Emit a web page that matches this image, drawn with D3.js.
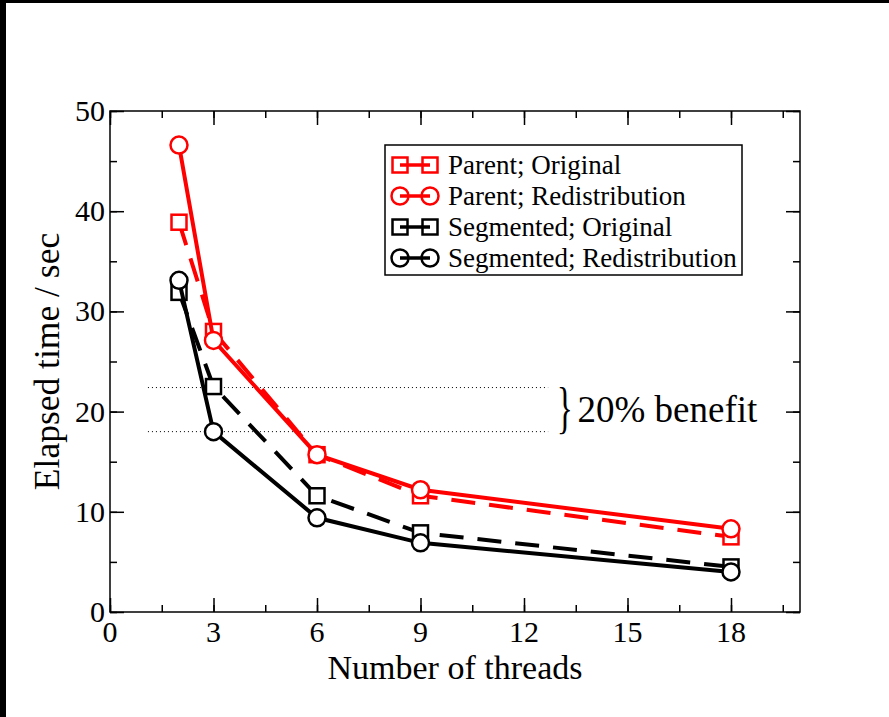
<!DOCTYPE html>
<html>
<head>
<meta charset="utf-8">
<script src="https://cdn.jsdelivr.net/npm/d3@7"></script>
<style>
  html, body { margin: 0; padding: 0; background: #fff; }
  svg { display: block; }
</style>
</head>
<body>
<script>
// Thread counts and measured elapsed times (seconds)
const threads = [2, 3, 6, 9, 18];
const parentOriginal = [38.9, 28.0, 15.7, 11.6, 7.5];
const parentRedistribution = [46.6, 27.1, 15.7, 12.2, 8.3];
const segmentedOriginal = [31.9, 22.5, 11.6, 7.9, 4.5];
const segmentedRedistribution = [33.1, 18.0, 9.4, 6.9, 4.0];

const seriesNames = ["Parent; Original", "Parent; Redistribution", "Segmented; Original", "Segmented; Redistribution"];
const xTicks = [0, 3, 6, 9, 12, 15, 18];
const yTicks = [0, 10, 20, 30, 40, 50];
// Reference levels for the annotated benefit at 3 threads
const benefitLevels = [22.4, 18.0];
const benefitSpan = [1.1, 12.7];
const benefitLabel = "20% benefit";

const SERIF = "'Liberation Serif', 'Times New Roman', serif";
const W = 889, H = 717;
const plot = { left: 110, top: 111, right: 800, bottom: 612 };

const svg = d3.select("body").append("svg").attr("width", W).attr("height", H)
  .style("font-family", SERIF);
svg.append("rect").attr("width", W).attr("height", H).attr("fill", "#fff");
// dark strips along the top and left edges of the page
svg.append("rect").attr("x", 0).attr("y", 0).attr("width", W).attr("height", 3).attr("fill", "#000");
svg.append("rect").attr("x", 0).attr("y", 0).attr("width", 6).attr("height", H).attr("fill", "#000");

const x = d3.scaleLinear().domain([0, 20]).range([plot.left, plot.right]);
const y = d3.scaleLinear().domain([0, 50]).range([plot.bottom, plot.top]);

const g = svg.append("g");

function label(sel, size) {
  return sel.style("font-family", SERIF).attr("font-family", SERIF)
    .attr("font-size", size).attr("fill", "#000");
}

// Inward ticks on all four sides
const majorLen = 14, minorLen = 7;
const xMinor = d3.range(0, 20.01, 1.5);
const yMinor = d3.range(0, 50.01, 5);
function tickAxis(axisFn, scale, vals, len, transform) {
  g.append("g").attr("transform", transform)
    .call(axisFn(scale).tickValues(vals).tickSize(len).tickFormat(""))
    .call(s => s.select(".domain").remove())
    .call(s => s.selectAll("text").remove())
    .call(s => s.selectAll("line").attr("stroke", "#000").attr("stroke-width", 1.5));
}
tickAxis(d3.axisTop, x, xMinor, minorLen, `translate(0,${plot.bottom})`);
tickAxis(d3.axisTop, x, xTicks, majorLen, `translate(0,${plot.bottom})`);
tickAxis(d3.axisBottom, x, xMinor, minorLen, `translate(0,${plot.top})`);
tickAxis(d3.axisBottom, x, xTicks, majorLen, `translate(0,${plot.top})`);
tickAxis(d3.axisRight, y, yMinor, minorLen, `translate(${plot.left},0)`);
tickAxis(d3.axisRight, y, yTicks, majorLen, `translate(${plot.left},0)`);
tickAxis(d3.axisLeft, y, yMinor, minorLen, `translate(${plot.right},0)`);
tickAxis(d3.axisLeft, y, yTicks, majorLen, `translate(${plot.right},0)`);

// Frame
g.append("rect")
  .attr("x", plot.left).attr("y", plot.top)
  .attr("width", plot.right - plot.left).attr("height", plot.bottom - plot.top)
  .attr("fill", "none").attr("stroke", "#000").attr("stroke-width", 1.5);

// Tick labels
const tl = svg.append("g");
xTicks.forEach(d => {
  label(tl.append("text"), 30).attr("x", x(d)).attr("y", plot.bottom + 30)
    .attr("text-anchor", "middle").text(d);
});
yTicks.forEach(d => {
  label(tl.append("text"), 30).attr("x", plot.left - 5).attr("y", y(d) + 10)
    .attr("text-anchor", "end").text(d);
});

// Axis titles
label(svg.append("text"), 34).attr("x", (plot.left + plot.right) / 2).attr("y", 679)
  .attr("text-anchor", "middle").text("Number of threads");
label(svg.append("text"), 35.5)
  .attr("transform", `translate(59,${(plot.top + plot.bottom) / 2}) rotate(-90)`)
  .attr("text-anchor", "middle").text("Elapsed time / sec");

// Dotted reference lines
g.selectAll(".ref").data(benefitLevels).join("line")
  .attr("x1", x(benefitSpan[0])).attr("x2", x(benefitSpan[1]))
  .attr("y1", d => y(d)).attr("y2", d => y(d))
  .attr("stroke", "#000").attr("stroke-width", 1).attr("stroke-dasharray", "1,3");

const braceMid = (y(benefitLevels[0]) + y(benefitLevels[1])) / 2;
label(svg.append("text"), 56)
  .attr("transform", `translate(${x(12.95)},${braceMid + 17}) scale(0.6,1)`)
  .text("}");
label(svg.append("text"), 37).attr("x", x(13.55)).attr("y", braceMid + 12)
  .text(benefitLabel);

// Series
const series = [
  { name: seriesNames[0], values: parentOriginal, color: "#ff0000", dash: "24,14", marker: "square" },
  { name: seriesNames[1], values: parentRedistribution, color: "#ff0000", dash: null, marker: "circle" },
  { name: seriesNames[2], values: segmentedOriginal, color: "#000000", dash: "24,14", marker: "square" },
  { name: seriesNames[3], values: segmentedRedistribution, color: "#000000", dash: null, marker: "circle" }
];

const line = d3.line().x(d => x(d[0])).y(d => y(d[1]));
const sq = 15, rad = 8.5;

function drawMarker(sel, type, cx, cy, color, fill) {
  if (type === "square") {
    sel.append("rect").attr("x", cx - sq / 2).attr("y", cy - sq / 2)
      .attr("width", sq).attr("height", sq)
      .attr("fill", fill).attr("stroke", color).attr("stroke-width", 2.5);
  } else {
    sel.append("circle").attr("cx", cx).attr("cy", cy).attr("r", rad)
      .attr("fill", fill).attr("stroke", color).attr("stroke-width", 2.5);
  }
}

series.forEach(s => {
  const pts = threads.map((t, i) => [t, s.values[i]]);
  const sg = g.append("g");
  sg.append("path").datum(pts).attr("d", line)
    .attr("fill", "none").attr("stroke", s.color).attr("stroke-width", 4)
    .attr("stroke-dasharray", s.dash);
  pts.forEach(p => drawMarker(sg, s.marker, x(p[0]), y(p[1]), s.color, "#fff"));
});

// Legend
const lg = svg.append("g");
lg.append("rect").attr("x", 385).attr("y", 145).attr("width", 357).attr("height", 130)
  .attr("fill", "#fff").attr("stroke", "#000").attr("stroke-width", 1.5);
series.forEach((s, i) => {
  const cy = 165 + i * 31;
  drawMarker(lg, s.marker, 400, cy, s.color, "none");
  drawMarker(lg, s.marker, 430, cy, s.color, "none");
  lg.append("line").attr("x1", 400).attr("x2", 430).attr("y1", cy).attr("y2", cy)
    .attr("stroke", s.color).attr("stroke-width", 3.5);
  label(lg.append("text"), 27).attr("x", 448).attr("y", cy + 9).text(s.name);
});
</script>
</body>
</html>
